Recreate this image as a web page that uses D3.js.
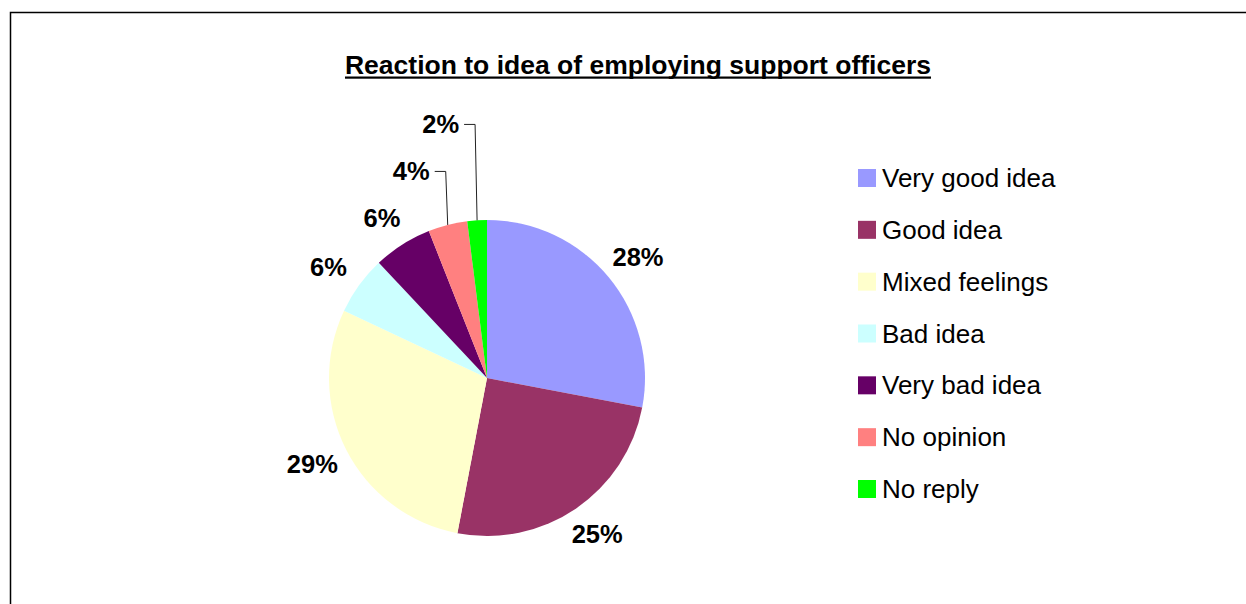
<!DOCTYPE html>
<html>
<head>
<meta charset="utf-8">
<script src="https://cdn.jsdelivr.net/npm/d3@7"></script>
<style>
  html, body { margin: 0; padding: 0; background: #ffffff; }
  svg { display: block; }
  text { font-family: "Liberation Sans", Arial, sans-serif; fill: #000; }
</style>
</head>
<body>
<svg id="chart" width="1246" height="604"></svg>
<script>
// Survey responses
const title = "Reaction to idea of employing support officers";
const categories = ["Very good idea", "Good idea", "Mixed feelings", "Bad idea", "Very bad idea", "No opinion", "No reply"];
const values = [28, 25, 29, 6, 6, 4, 2];
const colors = ["#9999FF", "#993366", "#FFFFCC", "#CCFFFF", "#660066", "#FF8080", "#00FF00"];

const W = 1246, H = 604;
const svg = d3.select("#chart");

// Chart area frame (extends past the right and bottom edges)
svg.append("rect")
  .attr("x", 10.5).attr("y", 12.5)
  .attr("width", 1400).attr("height", 800)
  .attr("fill", "#fff")
  .attr("stroke", "#000").attr("stroke-width", 1.5);

// Title with underline
const titleText = svg.append("text")
  .attr("x", 638).attr("y", 74)
  .attr("text-anchor", "middle")
  .style("font-size", "26.5px").style("font-weight", "bold")
  .text(title);
const tw = titleText.node().getComputedTextLength();
svg.append("rect")
  .attr("x", 638 - tw / 2).attr("y", 76.5)
  .attr("width", tw).attr("height", 2.2)
  .attr("fill", "#000");

// Pie
const cx = 487, cy = 378, R = 158;
const labelRx = 196, labelRy = 189;
const colorScale = d3.scaleOrdinal().domain(categories).range(colors);
const pie = d3.pie().sort(null).value(d => d.value).startAngle(0).endAngle(2 * Math.PI);
const data = categories.map((c, i) => ({ name: c, value: values[i] }));
const arcs = pie(data);
const arc = d3.arc().innerRadius(0).outerRadius(R);

const g = svg.append("g").attr("transform", `translate(${cx},${cy})`);
g.selectAll("path.slice")
  .data(arcs)
  .join("path")
  .attr("class", "slice")
  .attr("d", arc)
  .attr("fill", d => colorScale(d.data.name));

// Data labels: outside the slice; small slices are stacked upward with leader lines
const total = d3.sum(values);
const labelGap = 47;
let prevY = null;
arcs.forEach(d => {
  const a = (d.startAngle + d.endAngle) / 2;
  const pct = Math.round(d.data.value / total * 100) + "%";
  const lbl = g.append("text")
    .style("font-size", "25.5px").style("font-weight", "bold")
    .attr("dy", "0.35em")
    .text(pct);
  if (d.data.value / total < 0.05 && prevY !== null) {
    const px = R * Math.sin(a), py = -R * Math.cos(a);
    const ly = prevY - labelGap;
    g.append("path")
      .attr("d", `M${px},${py}L${px - 2},${ly}H${px - 13}`)
      .attr("fill", "none").attr("stroke", "#222").attr("stroke-width", 1);
    lbl.attr("x", px - 18).attr("y", ly).attr("text-anchor", "end");
    prevY = ly;
  } else {
    const lx = labelRx * Math.sin(a), ly = -labelRy * Math.cos(a);
    lbl.attr("x", lx).attr("y", ly).attr("text-anchor", "middle");
    prevY = ly;
  }
});

// Legend
const legendY = d3.scalePoint().domain(categories).range([178, 489]);
const legend = svg.append("g");
const item = legend.selectAll("g")
  .data(categories)
  .join("g")
  .attr("transform", d => `translate(858,${legendY(d)})`);
item.append("rect")
  .attr("x", 0).attr("y", -9)
  .attr("width", 18).attr("height", 18)
  .attr("fill", d => colorScale(d));
item.append("text")
  .attr("x", 24).attr("dy", "0.35em")
  .style("font-size", "26px")
  .text(d => d);
</script>
</body>
</html>
